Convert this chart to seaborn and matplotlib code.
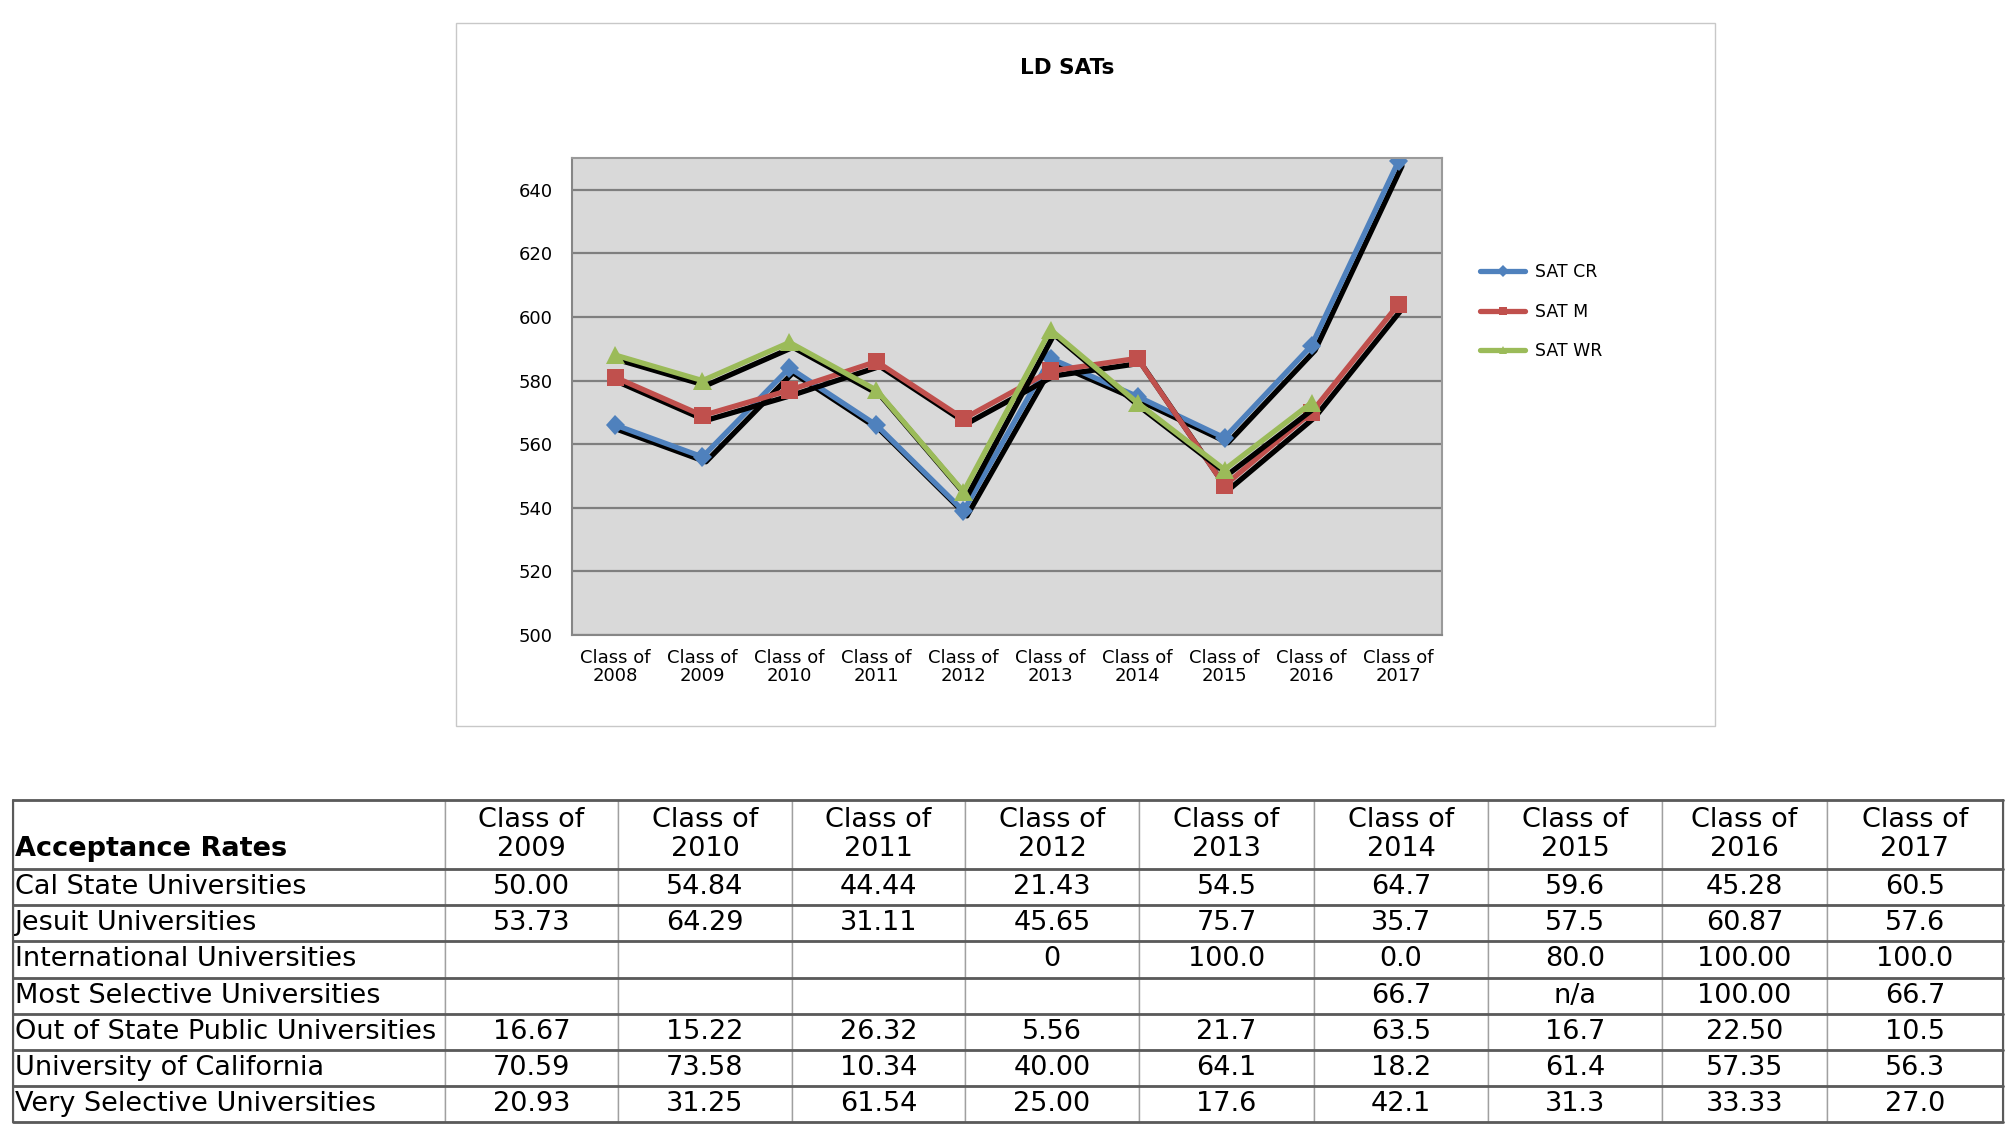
import matplotlib
matplotlib.use('Agg')

import numpy as np
import pandas as pd
import matplotlib.pyplot as plt
import matplotlib.patheffects as pe
from matplotlib.lines import Line2D
from matplotlib.patches import Rectangle
import seaborn as sns

# --- Chart data ---
chart_years = ["2008", "2009", "2010", "2011", "2012", "2013", "2014", "2015", "2016", "2017"]
sat_cr = [566, 556, 584, 566, 539, 587, 575, 562, 591, 649]
sat_m = [581, 569, 577, 586, 568, 583, 587, 547, 570, 604]
sat_wr = [588, 580, 592, 577, 545, 596, 573, 552, 573, np.nan]
series_names = ["SAT CR", "SAT M", "SAT WR"]

# --- Table data ---
table_title = "Acceptance Rates"
table_years = ["2009", "2010", "2011", "2012", "2013", "2014", "2015", "2016", "2017"]
table_rows = [
    "Cal State Universities",
    "Jesuit Universities",
    "International Universities",
    "Most Selective Universities",
    "Out of State Public Universities",
    "University of California",
    "Very Selective Universities",
]
cal_state = ["50.00", "54.84", "44.44", "21.43", "54.5", "64.7", "59.6", "45.28", "60.5"]
jesuit = ["53.73", "64.29", "31.11", "45.65", "75.7", "35.7", "57.5", "60.87", "57.6"]
international = ["", "", "", "0", "100.0", "0.0", "80.0", "100.00", "100.0"]
most_selective = ["", "", "", "", "", "66.7", "n/a", "100.00", "66.7"]
out_of_state = ["16.67", "15.22", "26.32", "5.56", "21.7", "63.5", "16.7", "22.50", "10.5"]
univ_california = ["70.59", "73.58", "10.34", "40.00", "64.1", "18.2", "61.4", "57.35", "56.3"]
very_selective = ["20.93", "31.25", "61.54", "25.00", "17.6", "42.1", "31.3", "33.33", "27.0"]

colors = ["#4F81BD", "#C0504D", "#9BBB59"]
markers = ["D", "s", "^"]
marker_sizes = [10, 12.5, 13]

W, H = 2006, 1135
sns.set_theme(style="white")
plt.rcParams['font.family'] = ['DejaVu Sans']
plt.rcParams['text.color'] = 'black'
plt.rcParams['xtick.color'] = 'black'
plt.rcParams['ytick.color'] = 'black'
plt.rcParams['xtick.labelcolor'] = 'black'
plt.rcParams['ytick.labelcolor'] = 'black'

fig = plt.figure(figsize=(W / 100, H / 100), dpi=100)
fig.patch.set_facecolor("white")

# chart frame
fig.patches.append(Rectangle((456 / W, 1 - 726 / H), 1259 / W, 703 / H,
                             transform=fig.transFigure, fill=False,
                             edgecolor="#c8c8c8", linewidth=1.0))
fig.text(1067 / W, 1 - 68 / H, "LD SATs", ha="center", va="center",
         fontsize=15.5, fontweight="bold", color="black")

# --- Line chart ---
labels = ["Class of\n" + y for y in chart_years]
df = pd.DataFrame({"Class": labels, "SAT CR": sat_cr, "SAT M": sat_m, "SAT WR": sat_wr})
df_long = df.melt(id_vars="Class", var_name="Series", value_name="Score").dropna()

ax = fig.add_axes([572 / W, 1 - 635 / H, (1442 - 572) / W, (635 - 158) / H])
ax.set_facecolor("#D9D9D9")
sns.lineplot(data=df_long, x="Class", y="Score", hue="Series", style="Series",
             hue_order=series_names, style_order=series_names,
             palette=colors, markers=dict(zip(series_names, markers)),
             dashes=False, linewidth=3.8, markeredgewidth=0,
             legend=False, sort=False, ax=ax)

for line, ms in zip(ax.lines, marker_sizes):
    line.set_markersize(ms)
    line.set_path_effects([pe.SimpleLineShadow(offset=(2.5, -3.5), shadow_color="black",
                                               alpha=1.0, rho=1.0),
                           pe.Normal()])

ax.set_xlim(-0.5, len(chart_years) - 0.5)
ax.set_ylim(500, 650)
ax.set_yticks(np.arange(500, 641, 20))
ax.set_xticks(range(len(chart_years)))
ax.set_xticklabels(labels, fontsize=13, linespacing=1.0)
ax.set_xticks(np.arange(-0.5, len(chart_years), 1.0), minor=True)
ax.tick_params(axis="x", which="major", length=0, pad=10)
ax.tick_params(axis="x", which="minor", length=6, width=1.2, color="#868686")
ax.tick_params(axis="y", which="major", length=6, width=1.2, color="#868686",
               labelsize=13, pad=8)
ax.grid(axis="y", color="#7f7f7f", linewidth=1.6)
ax.set_axisbelow(True)
for side in ["left", "right", "top", "bottom"]:
    ax.spines[side].set_visible(True)
    ax.spines[side].set_color("#9a9a9a")
    ax.spines[side].set_linewidth(1.5)
ax.spines["left"].set_color("#868686")
ax.spines["bottom"].set_color("#868686")
ax.set_xlabel("")
ax.set_ylabel("")

handles = [Line2D([0], [0], color=c, marker=m, markersize=6, linewidth=3.8,
                  markeredgewidth=0, label=n)
           for c, m, n in zip(colors, markers, series_names)]
fig.legend(handles=handles, loc="upper left", bbox_to_anchor=(1473 / W, 1 - 256 / H),
           frameon=False, fontsize=12.5, handlelength=2.6, handletextpad=0.6,
           labelspacing=1.25, borderaxespad=0)

# --- Acceptance rates table ---
tax = fig.add_axes([13 / W, 1 - 1122 / H, 1990 / W, 322 / H])
tax.axis("off")

row_values = [cal_state, jesuit, international, most_selective,
              out_of_state, univ_california, very_selective]
cell_text = [[name] + vals for name, vals in zip(table_rows, row_values)]
header = ["\n" + table_title] + ["Class of\n" + y for y in table_years]

col_px = [432, 173, 174, 173, 174, 175, 174, 174, 165, 176]
col_w = [c / sum(col_px) for c in col_px]
header_h, row_h = 69, 36

tbl = tax.table(cellText=[header] + cell_text, colWidths=col_w,
                bbox=[0, 0, 1, 1], cellLoc="center")
tbl.auto_set_font_size(False)
tbl.set_fontsize(19.5)

for (r, c), cell in tbl.get_celld().items():
    cell.set_height(header_h if r == 0 else row_h)
    cell.set_edgecolor("#a0a0a0")
    cell.set_linewidth(1.0)
    cell.set_facecolor("white")
    txt = cell.get_text()
    txt.set_color("black")
    txt.set_linespacing(1.12 if r == 0 else 1.0)
    if c == 0:
        cell.PAD = 0.004
        txt.set_ha("left")
        cell._loc = "left"
    if r == 0 and c == 0:
        txt.set_fontweight("bold")

# darker horizontal rules between rows
n_rows = len(table_rows)
total_h = header_h + n_rows * row_h
rule_y = [1.0, 1 - header_h / total_h] + [1 - (header_h + (i + 1) * row_h) / total_h
                                          for i in range(n_rows)]
for yy in rule_y:
    tax.axhline(yy, color="#5a5a5a", linewidth=2.0, clip_on=False)
tax.axvline(0, color="#5a5a5a", linewidth=1.5, clip_on=False)
tax.axvline(1, color="#5a5a5a", linewidth=1.5, clip_on=False)

plt.savefig("out.png", dpi=100)
